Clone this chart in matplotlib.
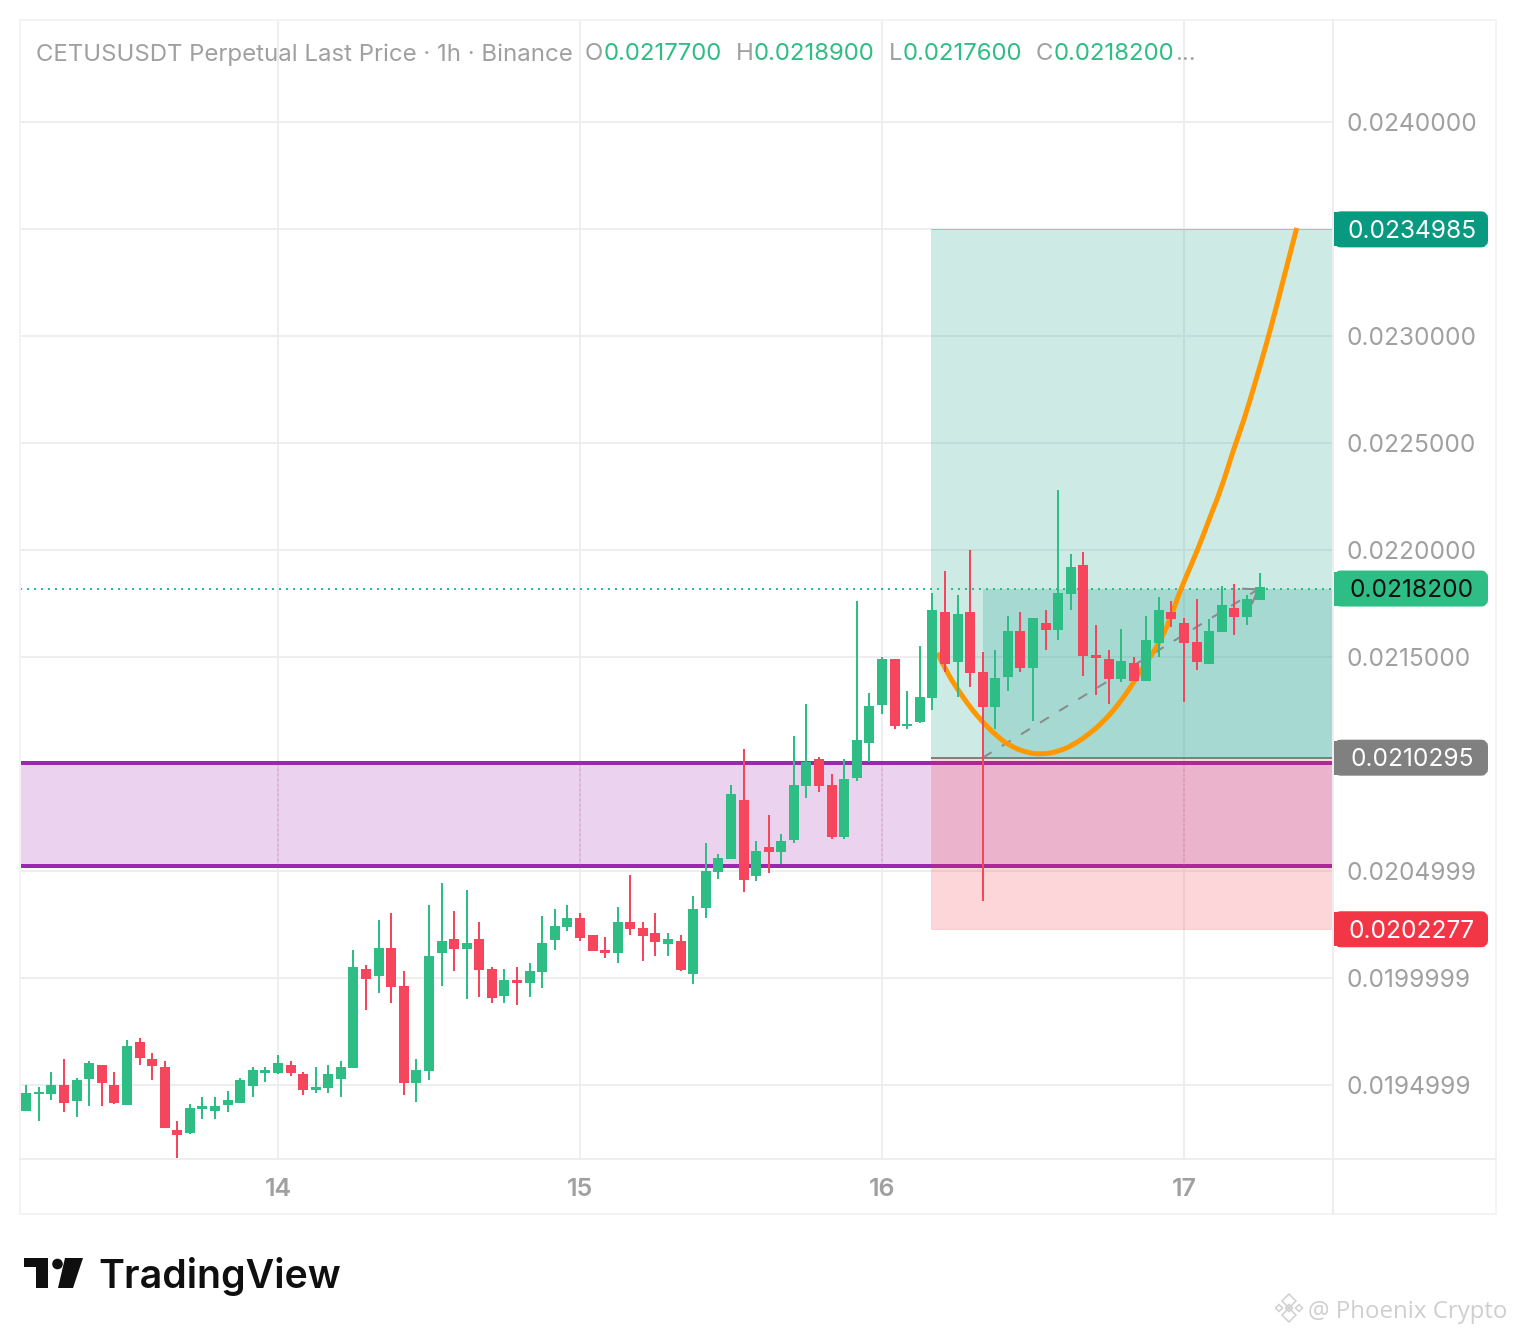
"""CETUSUSDT 1h candles with a long position tool, redrawn from a TradingView screenshot."""
import matplotlib
matplotlib.use("Agg")
import matplotlib.pyplot as plt
import numpy as np
from matplotlib.patches import Circle, FancyBboxPatch, PathPatch, Polygon, Rectangle
from matplotlib.path import Path

# prices below are in millionths (19378 = 0.019378)
open_vals = [19378, 19457, 19457, 19499, 19425, 19527, 19593, 19499, 19406, 19700,
             19621, 19583, 19289, 19275, 19387, 19378, 19406, 19415, 19495, 19555,
             19555, 19593, 19551, 19476, 19485, 19527, 19579, 20042, 20009, 20140,
             19962, 19509, 19565, 20116, 20182, 20135, 20182, 20042, 19915, 19990,
             19976, 20028, 20177, 20238, 20280, 20200, 20130, 20116, 20261, 20233,
             20210, 20158, 20172, 20018, 20327, 20495, 20556, 20831, 20476, 20612,
             20588, 20645, 20897, 21023, 20902, 20659, 20934, 21098, 21275, 21490,
             21177, 21196, 21308, 21710, 21476, 21710, 21430, 21266, 21406, 21621,
             21448, 21659, 21626, 21794, 21930, 21509, 21490, 21397, 21472, 21388,
             21565, 21710, 21659, 21570, 21467, 21617, 21729, 21687, 21766]
high_vals = [19499, 19490, 19560, 19621, 19532, 19612, 19593, 19560, 19710, 19719,
             19649, 19612, 19331, 19411, 19443, 19443, 19471, 19532, 19583, 19583,
             19640, 19612, 19560, 19583, 19593, 19612, 20130, 20060, 20271, 20303,
             20032, 19621, 20341, 20443, 20313, 20411, 20261, 20051, 20042, 20051,
             20070, 20289, 20322, 20341, 20303, 20200, 20191, 20331, 20481, 20261,
             20303, 20210, 20200, 20383, 20630, 20579, 20902, 21070, 20640, 20761,
             20673, 21131, 21280, 21032, 20953, 21023, 21762, 21332, 21500, 21490,
             21341, 21551, 21799, 21902, 21789, 22000, 21523, 21532, 21691, 21710,
             21682, 21719, 22280, 21981, 21990, 21649, 21532, 21631, 21500, 21691,
             21780, 21761, 21682, 21771, 21677, 21832, 21841, 21789, 21892]
low_vals = [19378, 19331, 19429, 19373, 19350, 19401, 19401, 19411, 19406, 19593,
            19523, 19298, 19158, 19270, 19340, 19340, 19373, 19415, 19443, 19513,
            19551, 19541, 19453, 19462, 19462, 19443, 19579, 19850, 19929, 19883,
            19453, 19420, 19523, 19962, 20032, 19901, 19911, 19883, 19883, 19873,
            19911, 19953, 20130, 20219, 20172, 20126, 20093, 20070, 20200, 20079,
            20102, 20102, 20032, 19971, 20280, 20462, 20556, 20401, 20453, 20490,
            20532, 20630, 20841, 20869, 20649, 20649, 20920, 21009, 21233, 21163,
            21163, 21191, 21252, 21430, 21313, 21359, 20360, 21163, 21341, 21430,
            21201, 21532, 21579, 21719, 21411, 21322, 21280, 21383, 21388, 21388,
            21500, 21640, 21289, 21439, 21467, 21617, 21603, 21649, 21766]
close_vals = [19462, 19467, 19499, 19415, 19523, 19602, 19509, 19415, 19682, 19626,
              19588, 19298, 19266, 19392, 19401, 19401, 19429, 19523, 19569, 19569,
              19602, 19555, 19476, 19490, 19551, 19583, 20051, 19995, 20140, 19957,
              19509, 19569, 20102, 20172, 20135, 20163, 20037, 19906, 19990, 19976,
              20032, 20163, 20243, 20280, 20186, 20126, 20116, 20261, 20228, 20196,
              20168, 20182, 20037, 20322, 20500, 20560, 20860, 20458, 20593, 20588,
              20640, 20902, 21009, 20897, 20659, 20930, 21112, 21271, 21490, 21177,
              21187, 21313, 21719, 21467, 21701, 21425, 21266, 21402, 21621, 21448,
              21682, 21626, 21799, 21920, 21504, 21495, 21397, 21481, 21388, 21579,
              21719, 21677, 21565, 21476, 21621, 21743, 21687, 21771, 21827]

# hand-drawn orange curve, bar number and price
curve_bars = [72.40, 73.14, 73.94, 74.99, 76.05, 77.12, 78.17, 79.50, 80.69, 82.01, 83.20,
              84.53, 85.59, 86.65, 87.71, 88.51, 89.30, 90.02, 90.89, 91.47, 92.22, 93.14,
              94.07, 95.00, 95.92, 96.77, 97.65, 98.57, 99.42, 100.29, 100.96]
curve_vals = [21519, 21430, 21355, 21266, 21192, 21131, 21084, 21053, 21045, 21058, 21089,
              21143, 21198, 21268, 21354, 21431, 21500, 21565, 21673, 21776, 21883, 22009,
              22154, 22294, 22467, 22608, 22780, 22967, 23154, 23355, 23505]

grid_prices = [0.0240, 0.0235, 0.0230, 0.0225, 0.0220, 0.0215, 0.0210, 0.0205, 0.0200, 0.0195]
grid_labels = ["0.0240000", "", "0.0230000", "0.0225000", "0.0220000", "0.0215000",
               "", "0.0204999", "0.0199999", "0.0194999"]
day_bars = [20, 44, 68, 92]
day_labels = ["14", "15", "16", "17"]

zone_top = 0.021007
zone_bottom = 0.020523
target_price = 0.0234985
entry_price = 0.0210295
stop_price = 0.0202277
last_price = 0.0218200
entry_bar = 71.9
fill_bar = 76

header_parts = [("CETUSUSDT Perpetual Last Price · 1h · Binance", 36, "grey"),
                ("O", 585, "grey"), ("0.0217700", 604, "green"),
                ("H", 736, "grey"), ("0.0218900", 754, "green"),
                ("L", 889, "grey"), ("0.0217600", 903, "green"),
                ("C", 1036, "grey"), ("0.0218200", 1054, "green"), ("...", 1175, "grey")]

W, H = 1516, 1334
GREEN = "#2EBD85"
RED = "#F6465D"
GRID = "#EEEEEF"
TEXT_GREY = "#A0A0A0"
PX = 72 / 100  # points per pixel at dpi 100

plt.rcParams["font.family"] = ["Inter", "DejaVu Sans"]

o = np.array(open_vals) / 1e6
h = np.array(high_vals) / 1e6
l = np.array(low_vals) / 1e6
c = np.array(close_vals) / 1e6
bars = np.arange(len(o))
colors = np.where(c >= o, GREEN, RED)

fig = plt.figure(figsize=(W / 100, H / 100), dpi=100, facecolor="white")

# price pane
ax = fig.add_axes([20 / W, 1 - 1159 / H, 1312 / W, 1139 / H])
ax.set_xlim(-0.5, 103.76)
ax.set_ylim(0.019154, 0.024477)
ax.set_axisbelow(True)
ax.grid(True, color=GRID, linewidth=2 * PX)
for s in ax.spines.values():
    s.set_visible(False)

ax.yaxis.tick_right()
ax.set_yticks(grid_prices)
ax.set_yticklabels(grid_labels)
ax.set_xticks(day_bars)
ax.set_xticklabels(day_labels, fontweight="semibold")
ax.tick_params(axis="y", length=0, pad=15 * PX, labelsize=24.5 * PX, labelcolor=TEXT_GREY)
ax.tick_params(axis="x", length=0, pad=19 * PX, labelsize=25 * PX, labelcolor=TEXT_GREY)

# purple zone
ax.axhspan(zone_bottom, zone_top, facecolor="#9C27B0", alpha=0.2, linewidth=0, zorder=1)
ax.axhline(zone_top, color="#9C27B0", linewidth=4 * PX, zorder=1)
ax.axhline(zone_bottom, color="#9C27B0", linewidth=4 * PX, zorder=1)
ax.vlines(day_bars, zone_bottom, zone_top, color="#F6465D", alpha=0.15, linewidth=2 * PX,
          linestyle=(0, (1, 1.5)), zorder=1)

# long position tool
right_edge = ax.get_xlim()[1]
ax.add_patch(Rectangle((entry_bar, entry_price), right_edge - entry_bar, target_price - entry_price,
                       facecolor="#089981", alpha=0.2, linewidth=0, zorder=2))
ax.add_patch(Rectangle((entry_bar, stop_price), right_edge - entry_bar, entry_price - stop_price,
                       facecolor="#F23645", alpha=0.2, linewidth=0, zorder=2))
ax.add_patch(Rectangle((fill_bar, entry_price), right_edge - fill_bar, last_price - entry_price,
                       facecolor="#089981", alpha=0.2, linewidth=0, zorder=2))
ax.hlines(target_price, entry_bar, right_edge, color="#089981", alpha=0.25, linewidth=1 * PX, zorder=2)
ax.hlines(stop_price, entry_bar, right_edge, color="#F23645", alpha=0.25, linewidth=1 * PX, zorder=2)
ax.hlines(entry_price, entry_bar, right_edge, color="#808080", linewidth=2 * PX, zorder=3)

# last price line
ax.axhline(last_price, color=GREEN, linewidth=2 * PX, linestyle=(0, (1, 2.5)), zorder=3)

# dashed entry-to-last line, then the curve, both under the candles
ax.plot([fill_bar, bars[-1]], [entry_price, last_price], color="#8A8A8A", linewidth=2 * PX,
        linestyle=(0, (5.2, 6)), zorder=3)
ax.annotate("", xy=(bars[-1], last_price), xytext=(bars[-1] - 0.3, last_price - 0.000011),
            arrowprops=dict(arrowstyle="->,head_length=0.5,head_width=0.35", color="#8A8A8A",
                            lw=2 * PX, mutation_scale=18, shrinkA=0, shrinkB=0), zorder=3)

# the read points are control points of a quadratic spline through their midpoints
cx = np.array(curve_bars)
cy = np.array(curve_vals) / 1e6
verts = [(cx[0], cy[0])]
codes = [Path.MOVETO]
for i in range(1, len(cx) - 1):
    end = (cx[i + 1], cy[i + 1]) if i == len(cx) - 2 else ((cx[i] + cx[i + 1]) / 2, (cy[i] + cy[i + 1]) / 2)
    verts += [(cx[i], cy[i]), end]
    codes += [Path.CURVE3, Path.CURVE3]
ax.add_patch(PathPatch(Path(verts, codes), fill=False, edgecolor="#FF9800", linewidth=5 * PX,
                       capstyle="butt", joinstyle="round", zorder=3))

# candles
ax.vlines(bars, l, h, colors=colors, linewidth=2 * PX, zorder=4)
ax.bar(bars, np.abs(c - o), bottom=np.minimum(o, c), width=0.795, color=colors, linewidth=0, zorder=5)

# everything around the pane goes on an overlay measured in image pixels
over = fig.add_axes([0, 0, 1, 1], facecolor="none")
over.set_xlim(0, W)
over.set_ylim(H, 0)
over.axis("off")

# frame
over.add_patch(Rectangle((20, 20), 1476, 1194, fill=False, edgecolor="#F3F3F3", linewidth=2 * PX))
over.plot([1333, 1333], [20, 1214], color=GRID, linewidth=2 * PX)
over.plot([20, 1496], [1159, 1159], color=GRID, linewidth=2 * PX)

# header
part_colors = {"grey": TEXT_GREY, "green": GREEN}
for txt, x, col in header_parts:
    over.text(x, 60.5, txt, color=part_colors[col], fontsize=24 * PX, va="baseline", ha="left")


def price_to_px(p):
    return H - ax.transData.transform((0, p))[1]


# price badges
badges = [(target_price, "0.0234985", "#089981", "white"),
          (last_price, "0.0218200", GREEN, "#111111"),
          (entry_price, "0.0210295", "#808080", "white"),
          (stop_price, "0.0202277", "#F23645", "white")]
for price, label, fill, text_col in badges:
    yc = price_to_px(price)
    over.add_patch(FancyBboxPatch((1338, yc - 14), 146, 28, boxstyle="round,pad=0,rounding_size=3",
                                  mutation_aspect=1, facecolor=fill, edgecolor=fill, linewidth=8 * PX))
    over.add_patch(Rectangle((1334, yc - 17), 10, 34, facecolor=fill, linewidth=0))
    over.text(1412, yc + 8.6, label, color=text_col, fontsize=24.5 * PX, ha="center", va="baseline")

# TradingView logo
LOGO = "#0F0F0F"
over.add_patch(Polygon([(24, 1258), (48, 1258), (48, 1288), (36, 1288), (36, 1267), (24, 1267)],
                       facecolor=LOGO, linewidth=0))
over.add_patch(Circle((57.5, 1264), 5.3, facecolor=LOGO, linewidth=0))
over.add_patch(Polygon([(65, 1258), (83, 1258), (73, 1288), (58, 1288)], facecolor=LOGO, linewidth=0))
over.text(98, 1288, "TradingView", color=LOGO, fontsize=39.3 * PX, fontweight="semibold",
          ha="left", va="baseline")

# watermark
MARK = "#CFCFCF"
for dx, dy, r in [(1289, 1301, 7), (1289, 1315, 7), (1279, 1308, 3.5), (1299, 1308, 3.5), (1289, 1308, 3.5)]:
    over.add_patch(Polygon([(dx - r, dy), (dx, dy - r), (dx + r, dy), (dx, dy + r)], fill=False,
                           edgecolor=MARK, linewidth=1.5 * PX))
over.text(1308, 1318, "@ Phoenix Crypto", color=MARK, fontsize=24 * PX, family="Open Sans",
          ha="left", va="baseline")

fig.savefig("out.png", dpi=100)
